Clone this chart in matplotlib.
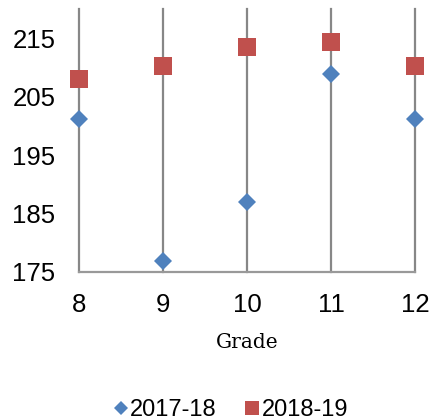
import matplotlib
matplotlib.use("Agg")
import matplotlib.pyplot as plt

grades = [8, 9, 10, 11, 12]
score_1718 = [201.2, 176.9, 186.9, 208.8, 201.2]
score_1819 = [208.0, 210.3, 213.5, 214.3, 210.3]
yticks = [175, 185, 195, 205, 215]

BLUE = "#4F81BD"
RED = "#C0504D"
GRID = "#878787"

plt.rcParams['font.family'] = ['Liberation Sans', 'DejaVu Sans']

fig = plt.figure(figsize=(4.41, 4.2), dpi=100)
ax = fig.add_axes([79/441, 1-272/420, (415-79)/441, (272-9)/420])

ax.plot(grades, score_1718, linestyle="none", marker="D", markersize=9,
        color=BLUE, markeredgewidth=0, clip_on=False, zorder=3, label="2017-18")
ax.plot(grades, score_1819, linestyle="none", marker="s", markersize=13.5,
        color=RED, markeredgewidth=0, clip_on=False, zorder=3, label="2018-19")

ax.set_xlim(8, 12)
ax.set_ylim(175, 220)
ax.set_xticks(grades)
ax.set_yticks(yticks)
ax.tick_params(axis="both", length=0, labelsize=18.5)
ax.tick_params(axis="x", pad=15)
ax.tick_params(axis="y", pad=17)

ax.grid(axis="x", color=GRID, linewidth=1.6)
ax.grid(axis="y", visible=False)
# gridlines at the axis edges should not be clipped in half
for gl in ax.get_xgridlines():
    gl.set_clip_on(False)
for s in ["left", "top", "right"]:
    ax.spines[s].set_visible(False)
ax.spines["bottom"].set_color("#999999")
ax.spines["bottom"].set_linewidth(1.6)

ax.set_xlabel("Grade", family="DejaVu Serif", fontsize=14.5, labelpad=12)

fig.legend(loc="center", bbox_to_anchor=(231/441, 1-410/420), ncol=2,
           frameon=False, fontsize=17, markerscale=0.75, handlelength=0.6,
           handletextpad=0.1, columnspacing=1.2)

fig.savefig("out.png", dpi=100)
